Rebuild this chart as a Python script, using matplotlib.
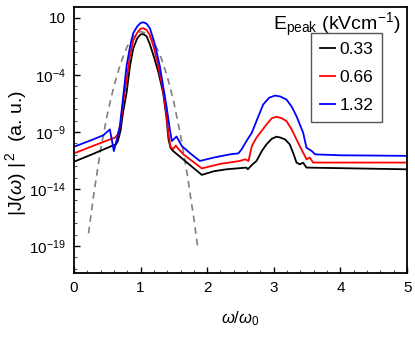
import numpy as np
import matplotlib.pyplot as plt
from matplotlib.ticker import FixedLocator, NullFormatter

plt.rcParams['font.family'] = ['Liberation Sans', 'DejaVu Sans']
plt.rcParams['mathtext.fontset'] = 'custom'
plt.rcParams['mathtext.rm'] = 'Liberation Sans'
plt.rcParams['mathtext.it'] = 'Liberation Sans:italic'

# values: x = w/w0, y = log10 |J(w)|^2
x_black = [0.0, 0.03, 0.3, 0.59, 0.63, 0.66, 0.70, 0.74, 0.79, 0.84, 0.89, 0.95, 1.0, 1.04,
           1.09, 1.14, 1.2, 1.27, 1.34, 1.39, 1.42, 1.45, 1.49, 1.7, 1.92, 2.1, 2.29, 2.59,
           2.61, 2.67, 2.74, 2.82, 2.89, 2.97, 3.04, 3.1, 3.17, 3.24, 3.3, 3.34, 3.39, 3.44,
           3.49, 5.0]
y_black = [-11.6, -11.55, -10.9, -10.18, -10.1, -9.8, -8.9, -7.2, -5.6, -3.3, -1.7, -0.8, -0.45, -0.42,
           -0.6, -1.3, -2.4, -3.8, -5.6, -7.8, -9.66, -10.4, -10.68, -11.7, -12.77, -12.45, -12.28, -12.13,
           -12.28, -11.9, -11.55, -10.68, -10.09, -9.6, -9.42, -9.5, -9.66, -10.1, -11.0, -11.69, -11.84, -11.7,
           -12.13, -12.28]

x_red = [0.0, 0.03, 0.3, 0.54, 0.62, 0.66, 0.70, 0.74, 0.79, 0.84, 0.89, 0.95, 1.0, 1.04,
         1.09, 1.14, 1.2, 1.25, 1.29, 1.34, 1.39, 1.42, 1.45, 1.49, 1.53, 1.57, 1.65, 1.92,
         2.2, 2.49, 2.57, 2.62, 2.67, 2.74, 2.89, 2.97, 3.04, 3.12, 3.19, 3.27, 3.34, 3.44,
         3.49, 3.54, 3.59, 5.0]
y_red = [-10.85, -10.82, -10.2, -9.66, -9.5, -9.2, -8.3, -6.4, -4.4, -2.4, -1.0, -0.3, 0.05, 0.1,
         -0.05, -0.5, -1.6, -2.8, -3.9, -5.4, -7.5, -9.2, -10.3, -10.5, -10.2, -10.5, -11.0, -12.2,
         -11.8, -11.55, -11.4, -11.55, -10.24, -9.5, -8.35, -7.8, -7.67, -7.8, -8.05, -8.8, -9.66, -10.82,
         -11.4, -11.25, -11.69, -11.69]

x_blue = [0.0, 0.03, 0.25, 0.44, 0.54, 0.60, 0.66, 0.69, 0.74, 0.79, 0.84, 0.89, 0.95, 1.0,
          1.04, 1.09, 1.14, 1.2, 1.25, 1.29, 1.34, 1.39, 1.44, 1.47, 1.54, 1.62, 1.75, 1.89,
          2.1, 2.34, 2.47, 2.52, 2.59, 2.67, 2.75, 2.84, 2.93, 3.02, 3.1, 3.19, 3.27, 3.34,
          3.44, 3.49, 3.57, 3.62, 4.0, 5.0]
y_blue = [-10.3, -10.24, -9.75, -9.3, -8.78, -10.68, -9.3, -8.5, -5.9, -3.25, -1.6, -0.34, 0.25, 0.55,
          0.62, 0.5, 0.1, -1.0, -2.2, -3.25, -5.0, -6.75, -8.78, -9.8, -9.4, -10.24, -10.9, -11.55,
          -11.25, -10.97, -10.88, -10.5, -9.8, -9.07, -7.9, -6.6, -6.0, -5.81, -5.9, -6.16, -6.8, -7.62,
          -9.07, -10.38, -10.68, -10.97, -11.05, -11.1]

x_gauss = [0.22, 0.3, 0.4, 0.5, 0.6, 0.7, 0.8, 0.9, 1.0, 1.1, 1.2, 1.3, 1.4, 1.5, 1.6, 1.7, 1.8, 1.86]
y_gauss = [-17.9, -14.4, -10.6, -7.5, -5.0, -3.0, -1.5, -0.6, -0.2, -0.35, -1.1, -2.35, -4.1, -6.4,
           -9.3, -12.7, -16.6, -19.2]

labels = ['0.33', '0.66', '1.32']
colors = ['black', 'red', 'blue']

fig = plt.figure(figsize=(4.15, 3.49), dpi=100)
ax = fig.add_axes([0.178, 0.218, 0.803, 0.762])

ax.plot(x_gauss, 10.0 ** np.array(y_gauss), color='gray', lw=1.2, ls=(0, (4, 3)))
for xs, ys, c, lab in zip([x_black, x_red, x_blue], [y_black, y_red, y_blue], colors, labels):
    ax.plot(xs, 10.0 ** np.array(ys), color=c, lw=1.3, label=lab)

ax.set_yscale('log')
ax.set_xlim(0, 5)
ax.set_ylim(10 ** -21.37, 10 ** 1.96)

ax.xaxis.set_major_locator(FixedLocator([0, 1, 2, 3, 4, 5]))
ax.xaxis.set_minor_locator(FixedLocator(np.arange(0, 5.01, 0.2)))
ax.yaxis.set_major_locator(FixedLocator([1e1, 1e-4, 1e-9, 1e-14, 1e-19]))
ax.yaxis.set_minor_locator(FixedLocator([10.0 ** k for k in range(-21, 2) if (1 - k) % 5 != 0]))
ax.yaxis.set_minor_formatter(NullFormatter())
ax.set_yticklabels(['10', '$10^{-4}$', '$10^{-9}$', '$10^{-14}$', '$10^{-19}$'])

ax.tick_params(axis='both', which='major', direction='in', length=4, width=1, labelsize=11, pad=6)
ax.tick_params(axis='both', which='minor', direction='in', length=2.5, width=0.8, colors='#555555')
ax.tick_params(top=False, right=False, which='both')
for s in ax.spines.values():
    s.set_linewidth(1.3)

ax.set_xlabel(r'$\omega/\omega_0$', fontsize=12, labelpad=10)
ax.set_ylabel(r'$|$J($\omega$) $|^{\,2}$  (a. u.)', fontsize=14)
ax.yaxis.set_label_coords(-0.135, 0.45)

leg = ax.legend(loc='upper left', bbox_to_anchor=(0.712, 0.902), borderaxespad=0, fontsize=12.5,
                handlelength=0.9, handletextpad=0.25, fancybox=False, edgecolor='#555555',
                framealpha=1, borderpad=0.5, labelspacing=0.75)
leg.get_frame().set_linewidth(1.0)
ax.text(0.98, 0.985, r'E$_{\rm peak}$ (kVcm$^{-1}$)', transform=ax.transAxes,
        ha='right', va='top', fontsize=14)

fig.savefig('out.png', dpi=100)
